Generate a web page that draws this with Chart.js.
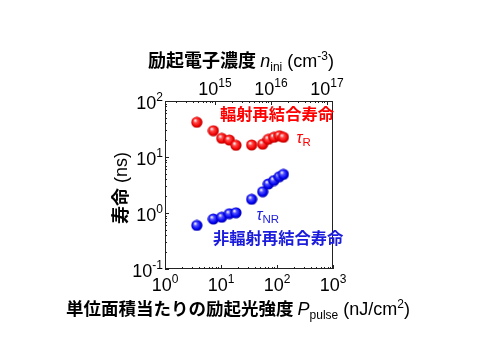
<!DOCTYPE html>
<html><head><meta charset="utf-8">
<script src="https://cdn.jsdelivr.net/npm/chart.js@4/dist/chart.umd.min.js"></script>
<style>html,body{margin:0;padding:0;background:#fff}#wrap{width:500px;height:356px}</style>
</head><body><div id="wrap"><canvas id="c" width="500" height="356"></canvas></div>
<script>
// ---- data ----
const pulseEnergy = [3.7, 7.3, 10.3, 14.1, 18.5, 35.3, 55.6, 70, 88, 110, 130];   // nJ/cm^2
const tauR  = [41.7, 29.5, 21.6, 20.1, 16.2, 16.4, 16.9, 20.7, 22.5, 24.0, 22.5];  // ns
const tauNR = [0.60, 0.78, 0.84, 0.97, 1.01, 1.76, 2.4, 3.3, 3.8, 4.45, 4.9];      // ns
const xTickExps = [0, 1, 2, 3];
const yTickExps = [-1, 0, 1, 2];
const topTickExps = [15, 16, 17];
const xRange = [1, 1000];
const yRange = [0.1, 100];
const topRange = [1.28e14, 1.28e17];

const LAT = '"Liberation Sans", Arial, sans-serif';
const CJK = '"Noto Sans CJK JP", "Noto Sans CJK SC", sans-serif';
const RED = '#ff0000', BLUE = '#1c1cdc';

function sphere(light, base, dark) {
  const c = document.createElement('canvas'); c.width = 12; c.height = 12;
  const g = c.getContext('2d');
  const gr = g.createRadialGradient(4.2, 4.0, 0.3, 6, 6, 6);
  gr.addColorStop(0, '#ffffff'); gr.addColorStop(0.3, light);
  gr.addColorStop(0.72, base); gr.addColorStop(1, dark);
  g.fillStyle = gr; g.beginPath(); g.arc(6, 6, 5.6, 0, Math.PI * 2); g.fill();
  return c;
}
const redBall = sphere('#ff4a4a', '#f00000', '#a00000');
const blueBall = sphere('#5050ff', '#0000ee', '#000096');

function rich(ctx, segs, x, y, align, color) {
  let w = 0;
  segs.forEach(s => { ctx.font = s.f; s.w = ctx.measureText(s.t).width; w += s.w; });
  let cx = align === 'center' ? x - w / 2 : align === 'right' ? x - w : x;
  ctx.textAlign = 'left'; ctx.textBaseline = 'alphabetic';
  segs.forEach(s => { ctx.font = s.f; ctx.fillStyle = s.c || color || '#000'; ctx.fillText(s.t, cx, y + (s.dy || 0)); cx += s.w; });
}
const F = (sz, style) => `${style ? style + ' ' : ''}${sz}px ${LAT}`;
const FC = (sz) => `bold ${sz}px ${CJK}`;
const pow = (e) => [{ t: '10', f: F(18) }, { t: String(e).replace('-', '-'), f: F(12), dy: -8 }];

const decor = {
  id: 'decor',
  afterDraw(chart) {
    const ctx = chart.ctx, a = chart.chartArea;
    const sx = chart.scales.x, sy = chart.scales.y, st = chart.scales.x2;
    ctx.save();
    // frame
    ctx.strokeStyle = '#222'; ctx.lineWidth = 1;
    ctx.strokeRect(Math.round(a.left) + 0.5, Math.round(a.top) + 0.5, Math.round(a.right - a.left) - 1, Math.round(a.bottom - a.top) - 1);
    // inward ticks
    ctx.beginPath();
    const logTicks = (lo, hi) => { const r = []; for (let e = Math.floor(Math.log10(lo)); e <= Math.ceil(Math.log10(hi)); e++) for (let m = 1; m <= 9; m++) { const v = m * Math.pow(10, e); if (v >= lo * 0.999 && v <= hi * 1.001) r.push([v, m === 1]); } return r; };
    logTicks(xRange[0], xRange[1]).forEach(([v, maj]) => { const px = Math.round(sx.getPixelForValue(v)) + 0.5; const L = maj ? 4 : 2; ctx.moveTo(px, a.bottom); ctx.lineTo(px, a.bottom - L); });
    logTicks(topRange[0], topRange[1]).forEach(([v, maj]) => { const px = Math.round(st.getPixelForValue(v)) + 0.5; const L = maj ? 4 : 2; ctx.moveTo(px, a.top); ctx.lineTo(px, a.top + L); });
    logTicks(yRange[0], yRange[1]).forEach(([v, maj]) => { const py = Math.round(sy.getPixelForValue(v)) + 0.5; const L = maj ? 4 : 2; ctx.moveTo(a.left, py); ctx.lineTo(a.left + L, py); });
    ctx.stroke();
    // tick labels
    xTickExps.forEach(e => rich(ctx, pow(e), sx.getPixelForValue(Math.pow(10, e)), a.bottom + 22, 'center'));
    topTickExps.forEach(e => rich(ctx, pow(e), st.getPixelForValue(Math.pow(10, e)), a.top - 6, 'center'));
    yTickExps.forEach(e => rich(ctx, pow(e), a.left - 2, sy.getPixelForValue(Math.pow(10, e)) + 8, 'right'));
    // axis titles
    rich(ctx, [{ t: '励起電子濃度 ', f: FC(18) }, { t: 'n', f: F(18, 'italic') }, { t: 'ini', f: F(12), dy: 4 },
               { t: ' (cm', f: F(18) }, { t: '-3', f: F(12), dy: -7 }, { t: ')', f: F(18) }], 241, 67, 'center');
    rich(ctx, [{ t: '単位面積当たりの励起光強度 ', f: FC(17.5) }, { t: 'P', f: F(18, 'italic') }, { t: 'pulse', f: F(12), dy: 4 },
               { t: ' (nJ/cm', f: F(18) }, { t: '2', f: F(12), dy: -7 }, { t: ')', f: F(18) }], 238, 315, 'center');
    ctx.save(); ctx.translate(120, 188); ctx.rotate(-Math.PI / 2);
    rich(ctx, [{ t: '寿命', f: FC(18) }, { t: ' (ns)', f: F(18) }], 0, 6.5, 'center');
    ctx.restore();
    // annotations (anchored in data coordinates)
    const P = (x, y) => [sx.getPixelForValue(x), sy.getPixelForValue(y)];
    let p = P(9.6, 46);   rich(ctx, [{ t: '輻射再結合寿命', f: FC(16.3) }], p[0], p[1], 'left', RED);
    p = P(223, 17.8);     rich(ctx, [{ t: 'τ', f: F(16, 'italic') }, { t: 'R', f: F(11.5), dy: 3 }], p[0], p[1], 'left', RED);
    p = P(43, 0.75);      rich(ctx, [{ t: 'τ', f: F(16, 'italic') }, { t: 'NR', f: F(11.5), dy: 3 }], p[0], p[1], 'left', BLUE);
    p = P(7.2, 0.285);    rich(ctx, [{ t: '非輻射再結合寿命', f: FC(16.3) }], p[0], p[1], 'left', BLUE);
    ctx.restore();
  }
};

const hiddenLog = (pos, range, fit) => ({
  type: 'logarithmic', position: pos, min: range[0], max: range[1],
  ticks: { display: false }, grid: { display: false }, border: { display: false },
  afterFit: fit
});

new Chart(document.getElementById('c'), {
  type: 'scatter',
  data: {
    datasets: [
      { label: 'τR', data: pulseEnergy.map((p, i) => ({ x: p, y: tauR[i] })), pointStyle: redBall, pointRadius: 6, xAxisID: 'x', yAxisID: 'y' },
      { label: 'τNR', data: pulseEnergy.map((p, i) => ({ x: p, y: tauNR[i] })), pointStyle: blueBall, pointRadius: 6, xAxisID: 'x', yAxisID: 'y' }
    ]
  },
  options: {
    responsive: false, animation: false, devicePixelRatio: 1,
    layout: { padding: { left: 165, right: 167, top: 101, bottom: 87 } },
    plugins: { legend: { display: false }, tooltip: { enabled: false } },
    scales: {
      x: hiddenLog('bottom', xRange, s => { s.height = 0; }),
      x2: hiddenLog('top', topRange, s => { s.height = 0; }),
      y: hiddenLog('left', yRange, s => { s.width = 0; })
    }
  },
  plugins: [decor]
});
</script>
</body></html>
